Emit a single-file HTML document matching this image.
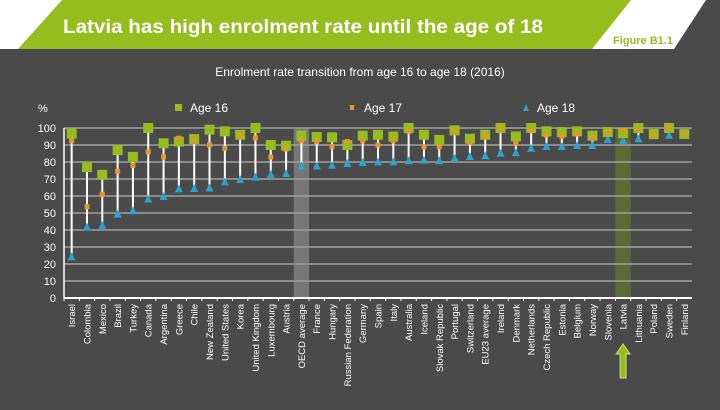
<!DOCTYPE html>
<html><head><meta charset="utf-8"><style>
body{margin:0;width:720px;height:405px;overflow:hidden;background:#4a4a4a;font-family:"Liberation Sans",sans-serif}
</style></head><body>
<svg width="720" height="405" xmlns="http://www.w3.org/2000/svg" id="svg">
<rect x="0" y="0" width="720" height="49" fill="#ffffff"/>
<polygon points="0,49 720,49 720,0 706,0 674,49" fill="#4a4a4a"/>
<polygon points="62,0 631,0 592,49 18,49" fill="#95bd1e"/>
<text x="63" y="33" textLength="480" lengthAdjust="spacingAndGlyphs" fill="#fff" font-size="19" font-weight="bold">Latvia has high enrolment rate until the age of 18</text>
<text x="643" y="44" text-anchor="middle" fill="#95bd1e" font-size="11" font-weight="bold">Figure B1.1</text>
<text x="360" y="76" text-anchor="middle" fill="#fff" font-size="12">Enrolment rate transition from age 16 to age 18 (2016)</text>
<text x="38" y="112" fill="#fff" font-size="11">%</text>
<g>
<rect x="175" y="104" width="7" height="7" fill="#95bd1e"/>
<text x="190" y="112" fill="#fff" font-size="12">Age 16</text>
<rect x="350" y="105" width="4" height="5" fill="#e8962a"/>
<text x="364" y="112" fill="#fff" font-size="12">Age 17</text>
<polygon points="523,111 526,104 529,111" fill="#2aa3d0"/>
<text x="537" y="112" fill="#fff" font-size="12">Age 18</text>
</g>
<g id="chart"></g>
</svg>
<script>
const categories=["Israel","Colombia","Mexico","Brazil","Turkey","Canada","Argentina","Greece","Chile","New Zealand","United States","Korea","United Kingdom","Luxembourg","Austria","OECD average","France","Hungary","Russian Federation","Germany","Spain","Italy","Australia","Iceland","Slovak Republic","Portugal","Switzerland","EU23 average","Ireland","Denmark","Netherlands","Czech Republic","Estonia","Belgium","Norway","Slovenia","Latvia","Lithuania","Poland","Sweden","Finland"];
const age16=[96.7,77,72.5,87,83,100,91,92,93.5,99,98,96,100,90,89.6,95.5,94.7,94.5,90,95.5,96,95,100,96,93,98.6,93.7,96,100,95,100,98,97.6,98,95.5,97.6,97,100,96.5,100,96.5];
const age17=[92.5,53.7,61,74.5,78,86,83,94,93,90,88,96,94.3,83,87.6,92.5,92,89,92,92.5,90,92.5,98,89,89,98,91.6,95,100,91,98.5,96,95,96.5,94,97.6,98.6,99.6,96,100,96.5];
const age18=[24.5,42,43,49.6,51.6,58.5,60,64.5,64.7,65,68.6,70,71.4,73,73.5,78,78,78.4,79.4,80,80.4,80.4,81,81.4,81,82.4,83.5,84,85.5,85.7,88.4,89.4,89.4,90,90,93.5,93,94,95.7,96,96];
const yTicks=[0,10,20,30,40,50,60,70,80,90,100];
const NS="http://www.w3.org/2000/svg";
const g=document.getElementById('chart');
const x0=64,x1=692,yb=298,yt=128;
const step=(x1-x0)/categories.length;
const xS=i=>x0+step*(i+0.5);
const yS=v=>yb-(v/100)*(yb-yt);
function mk(t,a){const e=document.createElementNS(NS,t);for(const k in a)e.setAttribute(k,a[k]);g.appendChild(e);return e;}
categories.forEach((c,i)=>{
 if(c==="OECD average"||c==="Latvia"){
  const r=mk('rect',{x:xS(i)-step/2,y:yt,width:step,height:yb-yt,fill:c==="Latvia"?"#5c6a36":"#777777"});
  
  
 }
});
yTicks.forEach(t=>{
 if(t>0){const l=mk('line',{x1:x0,x2:x1,y1:yS(t),y2:yS(t),stroke:"#a0a0a0","stroke-width":1.5});
 
 }
 const tx=mk('text',{x:x0-8,y:yS(t)+4,"text-anchor":"end",fill:"#fff","font-size":11});
 tx.textContent=t;
 
 
});
const ax=mk('line',{x1:x0,x2:x1,y1:yb,y2:yb,stroke:"#fff","stroke-width":2});


const ay=mk('line',{x1:x0,x2:x0,y1:yt,y2:yb,stroke:"#fff","stroke-width":1.5});


categories.forEach((c,i)=>{
 const x=xS(i);
 const tk=mk('line',{x1:x0+step*i,x2:x0+step*i,y1:yb,y2:yb+3,stroke:"#fff"});
 
 
 const hi=Math.max(age16[i],age17[i],age18[i]),lo=Math.min(age16[i],age17[i],age18[i]);
 const ln=mk('line',{x1:x,x2:x,y1:yS(hi),y2:yS(lo),stroke:"#fff","stroke-width":2});
 
 
 const t=mk('polygon',{points:`${x-4},${yS(age18[i])+4} ${x},${yS(age18[i])-4} ${x+4},${yS(age18[i])+4}`,fill:"#2aa3d0"});
 
 
 const s=mk('rect',{x:x-5,y:yS(age16[i])-5,width:10,height:10,fill:"#95bd1e"});
 
 
 const o=mk('rect',{x:x-2.5,y:yS(age17[i])-2.5,width:5,height:5,fill:"#e8962a"});
 
 
 const lb=mk('text',{x:0,y:0,transform:`translate(${x+3.5},${yb+6}) rotate(-90)`,"text-anchor":"end",fill:"#fff","font-size":9.5});
 lb.textContent=c;
 
 
 if(c==="Latvia"){
  const ar=mk('polygon',{points:`${x},${yb+46} ${x+7},${yb+56} ${x+3},${yb+56} ${x+3},${yb+80} ${x-3},${yb+80} ${x-3},${yb+56} ${x-7},${yb+56}`,fill:"#95bd1e",stroke:"#cde07a"});
  
  
 }
});
</script>
</body></html>
